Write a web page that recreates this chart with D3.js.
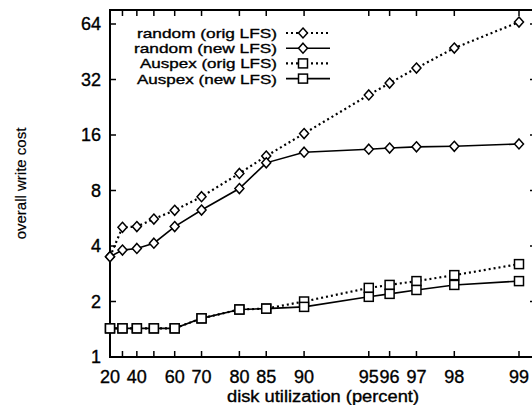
<!DOCTYPE html>
<html>
<head>
<meta charset="utf-8">
<script src="https://cdn.jsdelivr.net/npm/d3@7"></script>
<style>
  body { margin: 0; background: #fff; }
  text { font-family: "Liberation Sans", Arial, Helvetica, sans-serif; fill: #000; stroke: #000; stroke-width: 0.35px; }
</style>
</head>
<body>
<script>
// Disk utilization (percent) for each measured point
const utilization = [20, 30, 40, 50, 60, 70, 80, 85, 90, 95, 96, 97, 98, 99];
const labeledTicks = [20, 40, 60, 70, 80, 85, 90, 95, 96, 97, 98, 99];
const yTicks = [1, 2, 4, 8, 16, 32, 64];

const randomOrig = [3.5, 5.05, 5.1, 5.6, 6.25, 7.4, 9.9, 12.3, 16.3, 26.4, 30.6, 36.9, 47.4, 65.6];
const randomNew = [3.5, 3.8, 3.88, 4.14, 5.1, 6.27, 8.2, 11.3, 12.9, 13.4, 13.6, 13.8, 13.9, 14.3];
const auspexOrig = [1.43, 1.43, 1.43, 1.43, 1.43, 1.62, 1.81, 1.83, 2.0, 2.37, 2.46, 2.58, 2.78, 3.19];
const auspexNew = [1.43, 1.43, 1.43, 1.43, 1.43, 1.62, 1.81, 1.83, 1.87, 2.12, 2.2, 2.31, 2.46, 2.58];

const seriesNames = ["random (orig LFS)", "random (new LFS)", "Auspex (orig LFS)", "Auspex (new LFS)"];

const width = 532, height = 405;
const margin = { top: 10, right: -4, bottom: 48, left: 110 };
const plotWidth = width - margin.left - margin.right;
const plotHeight = height - margin.top - margin.bottom;

const svg = d3.select("body")
    .append("svg")
    .attr("width", width)
    .attr("height", height);

const g = svg.append("g")
    .attr("transform", `translate(${margin.left},${margin.top})`);

// x axis is linear in log10(1 / (1 - u))
const tu = u => -Math.log10(1 - u / 100);
const xLin = d3.scaleLinear()
    .domain([tu(20), tu(99)])
    .range([0, 409]);
const x = u => xLin(tu(u));

const y = d3.scaleLog()
    .base(2)
    .domain([1, 64])
    .range([plotHeight, 14]);

// frame
g.append("path")
    .attr("d", `M${plotWidth},0H0V${plotHeight}H${plotWidth}V0`)
    .attr("fill", "none")
    .attr("stroke", "#000")
    .attr("stroke-width", 2);

// x ticks (bottom and top, inward)
utilization.forEach(u => {
    g.append("line")
        .attr("x1", x(u)).attr("x2", x(u))
        .attr("y1", plotHeight).attr("y2", plotHeight - 6)
        .attr("stroke", "#000").attr("stroke-width", 1.5);
    g.append("line")
        .attr("x1", x(u)).attr("x2", x(u))
        .attr("y1", 0).attr("y2", 6)
        .attr("stroke", "#000").attr("stroke-width", 1.5);
});

g.selectAll(".xlab")
    .data(labeledTicks)
    .join("text")
    .attr("class", "xlab")
    .attr("x", d => x(d))
    .attr("y", plotHeight + 26)
    .attr("text-anchor", "middle")
    .attr("font-size", 18)
    .text(d => d);

// y ticks (left and right, inward)
yTicks.forEach(v => {
    g.append("line")
        .attr("x1", 0).attr("x2", 6)
        .attr("y1", y(v)).attr("y2", y(v))
        .attr("stroke", "#000").attr("stroke-width", 1.5);
    g.append("line")
        .attr("x1", plotWidth).attr("x2", plotWidth - 6)
        .attr("y1", y(v)).attr("y2", y(v))
        .attr("stroke", "#000").attr("stroke-width", 1.5);
});

g.selectAll(".ylab")
    .data(yTicks)
    .join("text")
    .attr("class", "ylab")
    .attr("x", -9)
    .attr("y", d => y(d) + 6)
    .attr("text-anchor", "end")
    .attr("font-size", 18)
    .text(d => d);

// axis titles
svg.append("text")
    .attr("x", margin.left + plotWidth / 2)
    .attr("y", 402)
    .attr("text-anchor", "middle")
    .attr("font-size", 16)
    .attr("textLength", 192)
    .attr("lengthAdjust", "spacingAndGlyphs")
    .text("disk utilization (percent)");

svg.append("text")
    .attr("transform", `translate(26,${margin.top + plotHeight / 2}) rotate(-90)`)
    .attr("text-anchor", "middle")
    .attr("font-size", 15)
    .style("stroke-width", "0.2px")
    .text("overall write cost");

// series
const series = [
    { name: seriesNames[0], values: randomOrig, dash: "2,3", marker: "diamond" },
    { name: seriesNames[1], values: randomNew, dash: null, marker: "diamond" },
    { name: seriesNames[2], values: auspexOrig, dash: "2,3", marker: "square" },
    { name: seriesNames[3], values: auspexNew, dash: null, marker: "square" }
];

const line = d3.line()
    .x(d => x(d[0]))
    .y(d => y(d[1]));

function drawMarker(sel, type, cx, cy) {
    if (type === "diamond") {
        sel.append("path")
            .attr("d", `M${cx},${cy - 5}L${cx + 4.5},${cy}L${cx},${cy + 5}L${cx - 4.5},${cy}Z`)
            .attr("fill", "#fff").attr("stroke", "#000").attr("stroke-width", 1.5);
    } else {
        sel.append("rect")
            .attr("x", cx - 4.5).attr("y", cy - 4.5)
            .attr("width", 9).attr("height", 9)
            .attr("fill", "#fff").attr("stroke", "#000").attr("stroke-width", 1.5);
    }
}

series.forEach(s => {
    const pts = utilization.map((u, i) => [u, s.values[i]]);
    g.append("path")
        .datum(pts)
        .attr("fill", "none")
        .attr("stroke", "#000")
        .attr("stroke-width", s.dash ? 2.2 : 1.6)
        .attr("stroke-dasharray", s.dash)
        .attr("d", line);
});

series.forEach(s => {
    utilization.forEach((u, i) => drawMarker(g, s.marker, x(u), y(s.values[i])));
});

// legend
const legend = svg.append("g");
series.forEach((s, i) => {
    const ly = 33 + i * 15.2;
    legend.append("text")
        .attr("x", 277)
        .attr("y", ly + 5)
        .attr("text-anchor", "end")
        .attr("font-size", 13.5)
        .attr("textLength", s.name.startsWith("random") ? (i === 0 ? 140 : 143) : (i === 2 ? 137 : 140))
        .attr("lengthAdjust", "spacingAndGlyphs")
        .text(s.name);
    legend.append("line")
        .attr("x1", 286).attr("x2", 330)
        .attr("y1", ly).attr("y2", ly)
        .attr("stroke", "#000")
        .attr("stroke-width", s.dash ? 2.2 : 1.6)
        .attr("stroke-dasharray", s.dash);
    drawMarker(legend, s.marker, 303, ly);
});
</script>
</body>
</html>
